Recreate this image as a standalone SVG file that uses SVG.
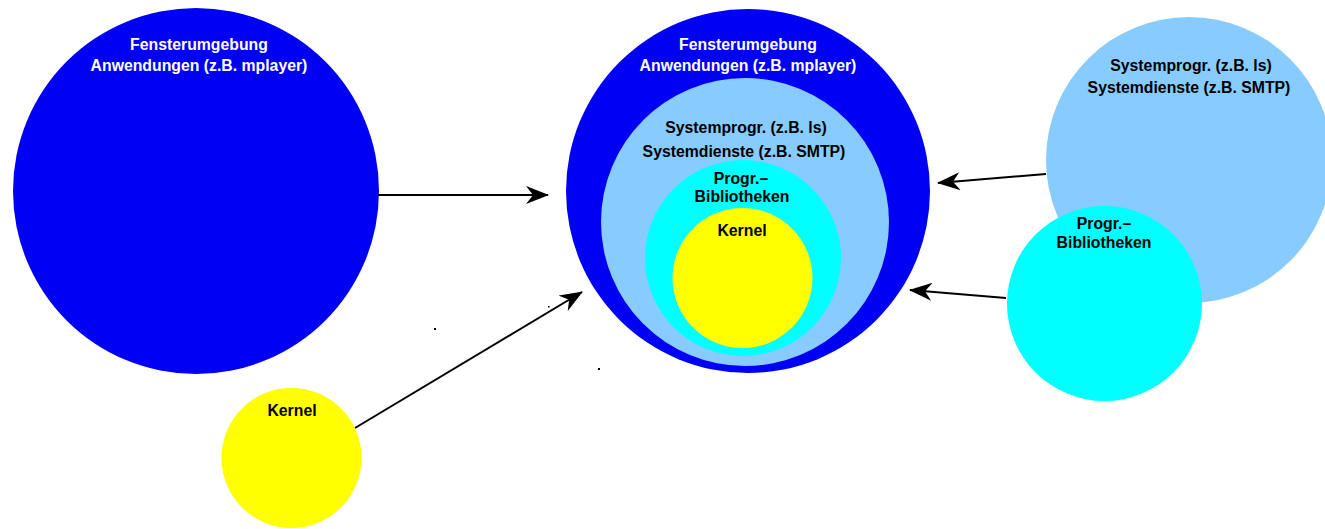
<svg xmlns="http://www.w3.org/2000/svg" width="1325" height="529" viewBox="0 0 1325 529">
<style>
text{font-family:"Liberation Sans",Arial,sans-serif;font-weight:bold;font-size:15.8px;text-anchor:middle;fill:#000}
.w{fill:#fff}
.blue{fill:#0000f5}
.lb{fill:#88ccff}
.cy{fill:#00ffff}
.ye{fill:#ffff00}
.conn{stroke:#000;stroke-width:2;fill:none;marker-end:url(#ah)}
</style>
<defs>
<marker id="ah" viewBox="0 0 23 18" refX="22" refY="9" markerWidth="23" markerHeight="18" markerUnits="userSpaceOnUse" orient="auto">
<path d="M0,0 L23,9 L0,18 L7,9 Z" fill="#000"/>
</marker>
</defs>
<rect width="1325" height="529" fill="#fff"/>
<g id="left-window">
<circle class="blue" cx="196" cy="191" r="183"/>
<text class="w" x="199" y="50">Fensterumgebung</text>
<text class="w" x="199" y="71">Anwendungen (z.B. mplayer)</text>
</g>
<g id="center-window">
<circle class="blue" cx="748" cy="191" r="182"/>
<text class="w" x="748" y="50">Fensterumgebung</text>
<text class="w" x="748" y="71">Anwendungen (z.B. mplayer)</text>
</g>
<g id="center-system">
<circle class="lb" cx="745" cy="222" r="144"/>
<text x="746" y="133">Systemprogr. (z.B. ls)</text>
<text x="744" y="157">Systemdienste (z.B. SMTP)</text>
</g>
<g id="center-libs">
<circle class="cy" cx="743" cy="258" r="98"/>
<text x="741" y="184">Progr.–</text>
<text x="742" y="202">Bibliotheken</text>
</g>
<g id="center-kernel">
<circle class="ye" cx="742.5" cy="278" r="70"/>
<text x="742" y="236">Kernel</text>
</g>
<g id="right-system">
<circle class="lb" cx="1189" cy="160" r="143"/>
<text x="1191" y="71">Systemprogr. (z.B. ls)</text>
<text x="1189" y="93">Systemdienste (z.B. SMTP)</text>
</g>
<g id="right-libs">
<circle class="cy" cx="1104.5" cy="303.5" r="97.5"/>
<text x="1104" y="229">Progr.–</text>
<text x="1104" y="248">Bibliotheken</text>
</g>
<g id="bottom-kernel">
<circle class="ye" cx="291.5" cy="458" r="70"/>
<text x="292" y="416">Kernel</text>
</g>
<g id="connectors">
<line class="conn" x1="378" y1="195" x2="548" y2="195"/>
<line class="conn" x1="355" y1="428" x2="582" y2="292"/>
<line class="conn" x1="1046" y1="174" x2="938" y2="183"/>
<line class="conn" x1="1006" y1="298" x2="910" y2="290"/>
</g>
<g id="dots" fill="#000">
<rect x="434" y="328" width="2" height="2"/>
<rect x="548" y="306" width="1.5" height="1.5"/>
<rect x="598" y="368" width="2" height="2"/>
</g>
</svg>
